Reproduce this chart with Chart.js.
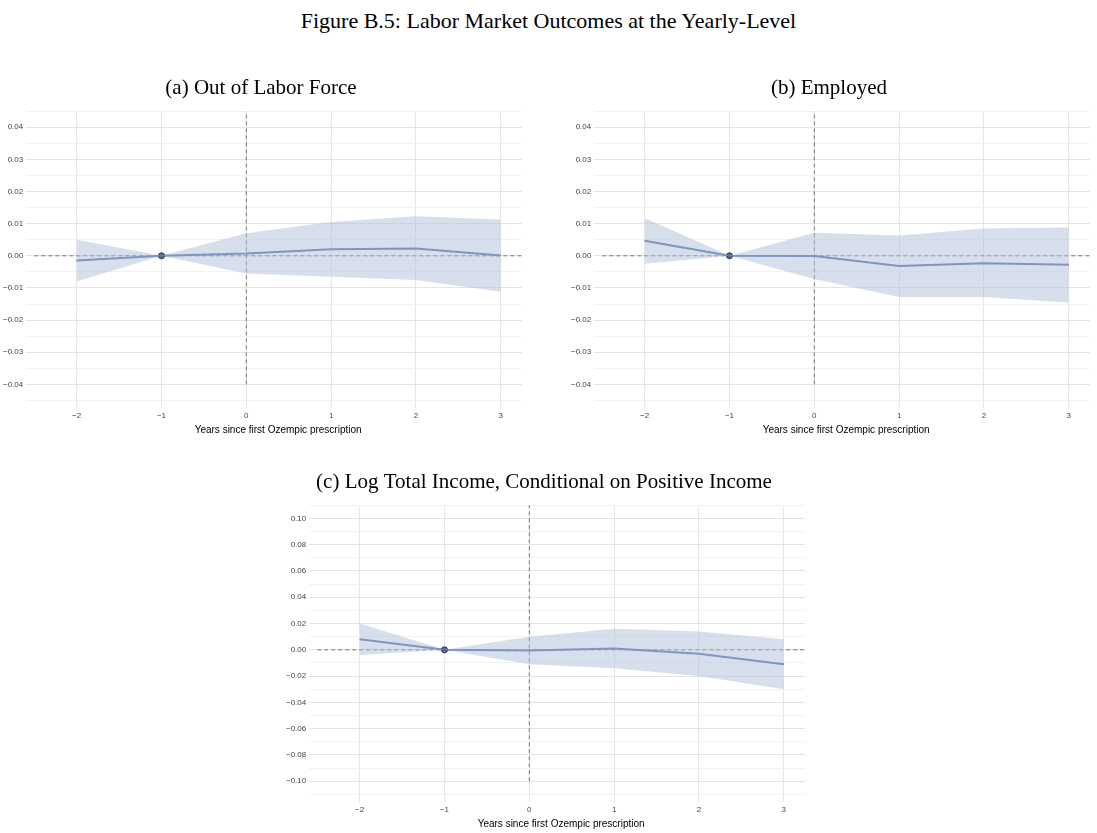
<!DOCTYPE html><html><head><meta charset="utf-8">
<script src="https://cdn.jsdelivr.net/npm/chart.js@4"></script>
<style>body{margin:0;width:1097px;height:833px;background:#fff;position:relative;font-family:"Liberation Serif",serif}
#t{position:absolute;top:8px;left:0;width:1097px;text-align:center;font-size:22px}
.c{position:absolute}</style></head><body>
<div id="t">Figure B.5: Labor Market Outcomes at the Yearly-Level</div>
<div class="c" style="left:0;top:76px;width:530px;height:360px"><canvas id="a"></canvas></div>
<div class="c" style="left:568px;top:76px;width:530px;height:360px"><canvas id="b"></canvas></div>
<div class="c" style="left:283px;top:470px;width:530px;height:360px"><canvas id="c"></canvas></div>
<script>
const years=[-2,-1,0,1,2,3];
const aEst=[-0.0015,0,0.0007,0.002,0.0023,0.0001];
const aLo=[-0.008,0,-0.0055,-0.0065,-0.0075,-0.0112];
const aHi=[0.005,0,0.007,0.0105,0.0123,0.0113];
const bEst=[0.0047,0,-0.0001,-0.0032,-0.0023,-0.0028];
const bLo=[-0.0025,0,-0.0072,-0.0128,-0.0128,-0.0145];
const bHi=[0.0118,0,0.0072,0.0063,0.0085,0.0088];
const cEst=[0.008,0,-0.0005,0.001,-0.003,-0.011];
const cLo=[-0.004,0,-0.011,-0.014,-0.020,-0.030];
const cHi=[0.020,0,0.010,0.016,0.014,0.008];
const minus=s=>s.replace('-','\u2212');
function mk(id,title,est,lo,hi,lim,step){
 const pts=a=>years.map((x,i)=>({x,y:a[i]}));
 new Chart(document.getElementById(id),{type:'line',data:{datasets:[
  {data:pts(lo),borderWidth:0,pointRadius:0,fill:false},
  {data:pts(hi),borderWidth:0,pointRadius:0,fill:'-1',backgroundColor:'rgba(176,192,218,0.5)'},
  {data:pts(est),borderColor:'#4f6ba6',borderWidth:2,pointRadius:years.map(y=>y===-1?3:0),pointBackgroundColor:'#4f6ba6',pointBorderColor:'#334',pointBorderWidth:1},
  {data:[{x:-2.5,y:0},{x:3.25,y:0}],borderColor:'#777',borderWidth:1,borderDash:[4,3],pointRadius:0},
  {data:[{x:0,y:-lim},{x:0,y:lim+step}],borderColor:'#777',borderWidth:1,borderDash:[4,3],pointRadius:0}
 ]},options:{animation:false,responsive:true,maintainAspectRatio:false,
  plugins:{legend:{display:false},tooltip:{enabled:false},title:{display:true,text:title,color:'#000',font:{family:'Liberation Serif',size:21,weight:'normal'},padding:{top:0,bottom:10}}},
  layout:{padding:{left:0,right:8}},
  scales:{x:{type:'linear',min:-2.5,max:3.25,border:{display:false},grid:{color:'#e6e6e6'},
    afterBuildTicks:s=>{s.ticks=years.map(v=>({value:v}))},
    ticks:{callback:v=>minus(String(v)),font:{family:'Liberation Sans',size:8},color:'#444'},
    title:{display:true,text:'Years since first Ozempic prescription',font:{family:'Liberation Sans',size:10},color:'#000',padding:0}},
   y:{min:-lim-step/2,max:lim+step/2,border:{display:false},grid:{color:c=>Math.round(c.tick.value/step*2)%2?'#f2f2f2':'#e4e4e4'},
    ticks:{stepSize:step/2,font:{family:'Liberation Sans',size:8},color:'#444',callback:v=>Math.round(v/step*2)%2?'':minus(v.toFixed(2))}}}}});
}
mk('a','(a) Out of Labor Force',aEst,aLo,aHi,0.04,0.01);
mk('b','(b) Employed',bEst,bLo,bHi,0.04,0.01);
mk('c','(c) Log Total Income, Conditional on Positive Income',cEst,cLo,cHi,0.10,0.02);
</script></body></html>
